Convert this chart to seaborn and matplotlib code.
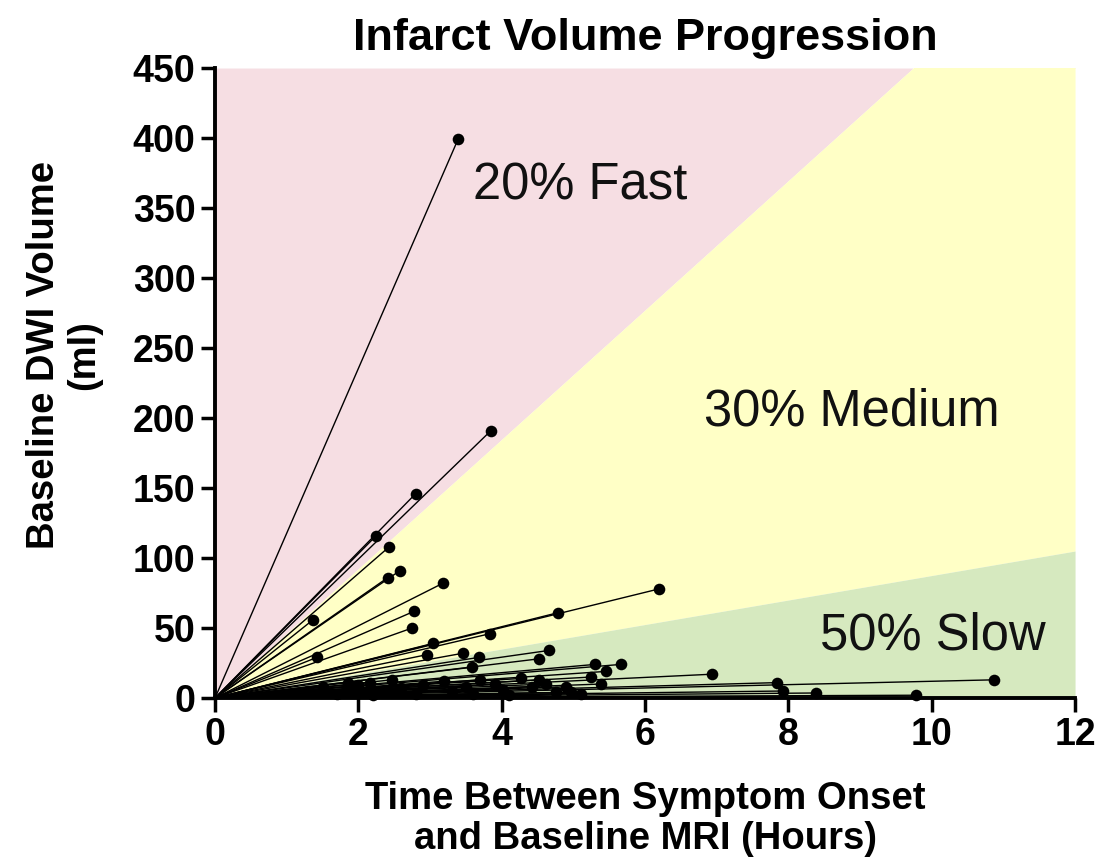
import numpy as np
import pandas as pd
import matplotlib
matplotlib.use("Agg")
import matplotlib.pyplot as plt
import seaborn as sns

# Data: time from onset to baseline MRI (hours) and baseline DWI volume (ml)
hours = [3.39, 3.85, 2.80, 2.25, 2.43, 2.58, 2.41, 3.18, 1.37, 2.78, 2.75,
         4.79, 6.20, 3.84, 1.42, 3.04, 2.96, 3.46, 3.68, 3.59, 4.66, 4.52,
         5.30, 5.66, 5.45, 5.25, 6.93, 5.39, 4.27, 4.52, 4.62, 4.42, 4.02,
         4.76, 4.97, 7.84, 10.87, 7.92, 8.39, 9.78, 2.47, 2.16, 3.70, 1.86,
         1.50, 1.95, 2.30, 2.60, 2.90, 3.30, 3.60, 1.70, 3.90,
         1.30, 2.00, 2.80, 3.20, 4.10, 4.90, 5.10, 3.50, 2.20]
volume = [399, 191, 146, 116, 108, 91, 86, 82, 56, 62, 50,
          61, 78, 46, 29, 39, 31, 32, 29, 22, 34, 28,
          24, 24, 19, 15, 17, 10, 14, 13, 10, 8, 6,
          4, 4, 11, 13, 5, 3.6, 2, 13, 11, 13, 11,
          8, 6, 4, 7, 9, 5, 3, 3, 10,
          5, 9, 3, 12, 2, 8, 3, 8, 2]

# Growth-rate boundaries (ml/hour) separating the zones
fast_medium_rate = 46.2
medium_slow_rate = 8.75
zone_labels = ["20% Fast", "30% Medium", "50% Slow"]
zone_colors = ["#F6DEE3", "#FFFFC6", "#D6E9BF"]

sns.set_theme(style="ticks")
plt.rcParams['font.family'] = ['Liberation Sans', 'DejaVu Sans']

fig = plt.figure(figsize=(11.05, 8.59), dpi=100)
ax = fig.add_axes([0.1946, 0.1874, 0.7783, 0.7334])

xmax, ymax = 12, 450
xs = np.array([0, xmax])
ax.fill_between(xs, fast_medium_rate * xs, ymax, color=zone_colors[0], lw=0, zorder=0)
ax.fill_between(xs, medium_slow_rate * xs, fast_medium_rate * xs, color=zone_colors[1], lw=0, zorder=0)
ax.fill_between(xs, 0, medium_slow_rate * xs, color=zone_colors[2], lw=0, zorder=0)

# Lines from origin to each patient point
rows = []
for i, (h, v) in enumerate(zip(hours, volume)):
    rows.append({"pid": i, "hours": 0.0, "volume": 0.0})
    rows.append({"pid": i, "hours": h, "volume": v})
df_lines = pd.DataFrame(rows)
sns.lineplot(data=df_lines, x="hours", y="volume", units="pid", estimator=None,
             color="black", lw=1.0, ax=ax, zorder=2, sort=False)

df_pts = pd.DataFrame({"hours": hours, "volume": volume})
sns.scatterplot(data=df_pts, x="hours", y="volume", color="black", s=70,
                edgecolor="black", linewidth=0, ax=ax, zorder=3, clip_on=False)

ax.text(3.6, 366, zone_labels[0], fontsize=36.5, va="center", ha="left", color="#111111")
ax.text(6.82, 204, zone_labels[1], fontsize=36.5, va="center", ha="left", color="#111111")
ax.text(8.44, 44, zone_labels[2], fontsize=36.5, va="center", ha="left", color="#111111")

ax.set_xlim(0, xmax)
ax.set_ylim(0, ymax)
ax.set_xticks(range(0, 13, 2))
ax.set_yticks(range(0, 451, 50))
ax.tick_params(axis="both", which="major", length=10, width=2.5, labelsize=27,
               direction="out", pad=4, colors="black")
for lab in ax.get_xticklabels() + ax.get_yticklabels():
    lab.set_fontweight("bold")
for side in ["top", "right"]:
    ax.spines[side].set_visible(False)
for side in ["left", "bottom"]:
    ax.spines[side].set_linewidth(2.8)
    ax.spines[side].set_color("black")

ax.set_xlabel("Time Between Symptom Onset\nand Baseline MRI (Hours)", fontsize=27.5,
              fontweight="bold", labelpad=20, linespacing=1.15, color="black")
ax.set_ylabel("Baseline DWI Volume\n(ml)", fontsize=27.5, fontweight="bold",
              labelpad=22, linespacing=1.15, color="black")
ax.yaxis.label.set_y(0.545)
ax.set_title("Infarct Volume Progression", fontsize=32.5, fontweight="bold", pad=13,
             color="black")

fig.savefig("out.png", dpi=100)
